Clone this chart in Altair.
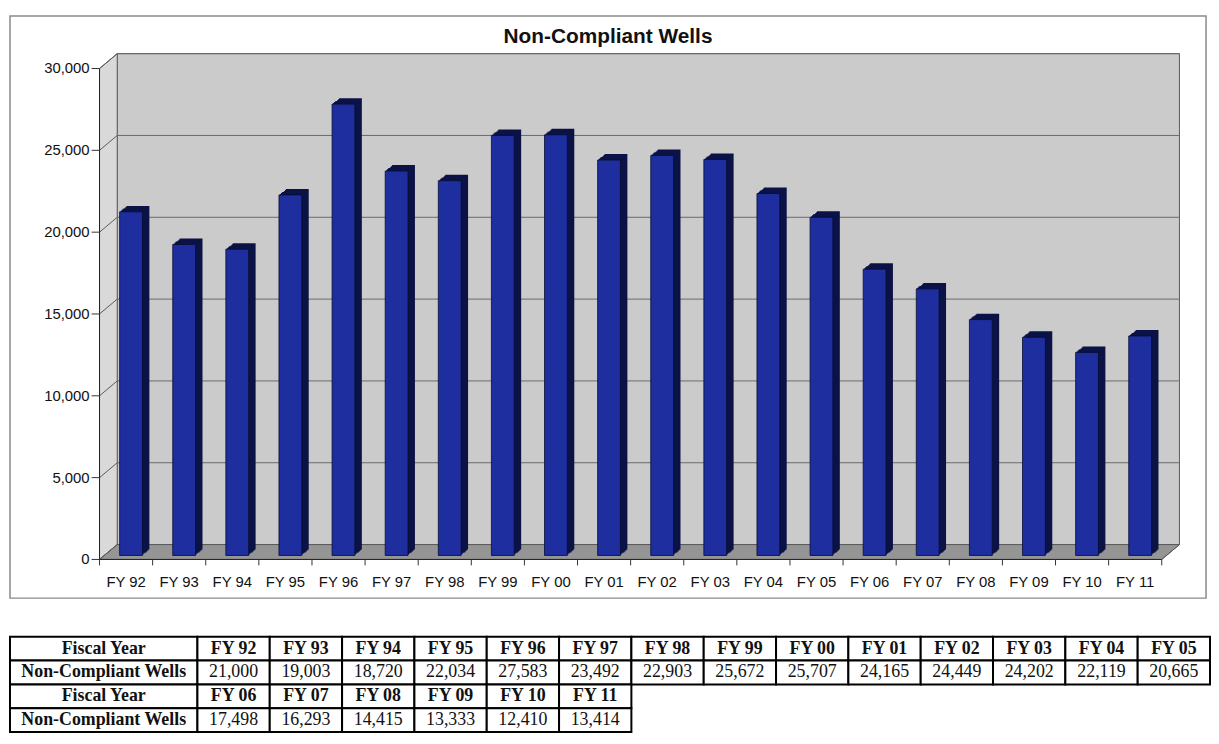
import altair as alt
import pandas as pd

# ---------------- data ----------------
years = ["FY 92", "FY 93", "FY 94", "FY 95", "FY 96", "FY 97", "FY 98", "FY 99", "FY 00", "FY 01",
         "FY 02", "FY 03", "FY 04", "FY 05", "FY 06", "FY 07", "FY 08", "FY 09", "FY 10", "FY 11"]
wells = [21000, 19003, 18720, 22034, 27583, 23492, 22903, 25672, 25707, 24165,
         24449, 24202, 22119, 20665, 17498, 16293, 14415, 13333, 12410, 13414]
y_ticks = [0, 5000, 10000, 15000, 20000, 25000, 30000]
chart_title = "Non-Compliant Wells"
head_label = "Fiscal Year"
value_label = "Non-Compliant Wells"
per_table_row = 14

n = len(years)
ymax = y_ticks[-1]

# ---------------- geometry (pixels) ----------------
W, H = 1206, 587          # framed chart area
STEP = 54                 # pixels per category
AXIS_X = 86               # front value axis position inside the frame
ZERO_Y, TOP_Y = 548, 53   # pixel rows of 0 and of the top tick inside the frame
DEPTH_X, DEPTH_Y = 18, 15 # 3-D depth of walls

xd0 = -0.5 - AXIS_X / STEP
xd1 = xd0 + W / STEP
ppu = (ZERO_Y - TOP_Y) / ymax
yd0 = -(H - ZERO_Y) / ppu
yd1 = ymax + TOP_Y / ppu
dxu = DEPTH_X / STEP
dyu = DEPTH_Y / ppu

xs = alt.Scale(domain=[xd0, xd1], nice=False, zero=False)
ys = alt.Scale(domain=[yd0, yd1], nice=False, zero=False)

FONT = "Liberation Sans"

df = pd.DataFrame({"idx": list(range(n)), "year": years, "wells": wells})

lo, hi = -0.5, n - 0.5

wall = pd.DataFrame({"x": [lo + dxu], "x2": [hi + dxu], "y": [dyu], "y2": [ymax + dyu]})
side = pd.DataFrame({"x": [lo, lo + dxu], "y": [0, dyu], "y2": [ymax, ymax + dyu]})
floor = pd.DataFrame({"y": [0, dyu], "x": [lo, lo + dxu], "x2": [hi, hi + dxu]})
grid = pd.DataFrame({"y": [v + dyu for v in y_ticks[1:]], "x": lo + dxu, "x2": hi + dxu})
diag = pd.DataFrame({
    "x": [lo] * len(y_ticks) + [hi],
    "x2": [lo + dxu] * len(y_ticks) + [hi + dxu],
    "y": y_ticks + [0],
    "y2": [v + dyu for v in y_ticks] + [dyu],
})
axis_lines = pd.DataFrame({"x": [lo, lo], "x2": [lo, hi], "y": [0, 0], "y2": [ymax, 0]})
yt = pd.DataFrame({"x": lo, "y": y_ticks, "label": [f"{v:,}" for v in y_ticks]})
xt = pd.DataFrame({"x": [i + 0.5 for i in range(-1, n)], "y": 0})


def X(field):
    return alt.X(field, scale=xs, axis=None)


def Y(field):
    return alt.Y(field, scale=ys, axis=None)


wall_layer = alt.Chart(wall).mark_rect(fill="#cbcbcb", stroke="#5a5a5a", strokeWidth=1).encode(
    x=X("x:Q"), x2="x2:Q", y=Y("y:Q"), y2="y2:Q")
side_layer = alt.Chart(side).mark_area(orient="vertical", fill="#d9d9d9", stroke="#5a5a5a", strokeWidth=1).encode(
    x=X("x:Q"), y=Y("y:Q"), y2="y2:Q")
floor_layer = alt.Chart(floor).mark_area(orient="horizontal", fill="#959595", stroke="#5a5a5a", strokeWidth=1).encode(
    y=Y("y:Q"), x=X("x:Q"), x2="x2:Q")
grid_layer = alt.Chart(grid).mark_rule(color="#6a6a6a", strokeWidth=1).encode(
    x=X("x:Q"), x2="x2:Q", y=Y("y:Q"))
diag_layer = alt.Chart(diag).mark_rule(color="#5a5a5a", strokeWidth=1).encode(
    x=X("x:Q"), x2="x2:Q", y=Y("y:Q"), y2="y2:Q")
axis_layer = alt.Chart(axis_lines).mark_rule(color="#222", strokeWidth=1).encode(
    x=X("x:Q"), x2="x2:Q", y=Y("y:Q"), y2="y2:Q")

# value-axis ticks and labels
ytick_layer = alt.Chart(yt).mark_rule(color="#333", strokeWidth=1, xOffset=-8).encode(
    x=X("x:Q"), x2="x:Q", y=Y("y:Q"))
ylabel_layer = alt.Chart(yt).mark_text(font=FONT, fontSize=15, color="#111", align="right",
                                       baseline="middle", xOffset=-10).encode(
    x=X("x:Q"), y=Y("y:Q"), text="label:N")
# category-axis ticks and labels
xtick_layer = alt.Chart(xt).mark_rule(color="#333", strokeWidth=1, y2Offset=6).encode(
    x=X("x:Q"), y=Y("y:Q"), y2="y:Q")
xlabel_layer = alt.Chart(df).mark_text(font=FONT, fontSize=15, color="#111", align="center",
                                       baseline="middle", yOffset=23).encode(
    x=X("idx:Q"), y=alt.Y(datum=0, scale=ys, axis=None), text="year:N")

BAR_W = 23
BX, BY = 5, -4   # bar front face sits mid-depth
DX, DY = 7, 6    # bar depth

extrude_layers = []
for k in range(1, DX + 1):
    off_y = BY - round(DY * k / DX)
    extrude_layers.append(
        alt.Chart(df).mark_bar(size=BAR_W, xOffset=BX + k, yOffset=off_y, y2Offset=off_y,
                               color="#0b1245").encode(
            x=X("idx:Q"), y=Y("wells:Q"), y2=alt.datum(0))
    )

front_layer = alt.Chart(df).mark_bar(size=BAR_W, xOffset=BX, yOffset=BY, y2Offset=BY,
                                     color="#1e2e9e", stroke="#080c33", strokeWidth=0.8).encode(
    x=X("idx:Q"), y=Y("wells:Q"), y2=alt.datum(0))

chart = alt.layer(wall_layer, side_layer, floor_layer, grid_layer, diag_layer, axis_layer,
                  ytick_layer, ylabel_layer, xtick_layer, xlabel_layer,
                  *extrude_layers, front_layer).properties(
    width=W, height=H,
    title=alt.TitleParams(chart_title, font=FONT, fontSize=21, fontWeight="bold", color="#111",
                          anchor="middle", offset=-48, baseline="alphabetic"),
    view=alt.ViewBackground(stroke="#8a8a8a", strokeWidth=1.5),
)

# ---------------- table ----------------
TW = 1210
ROW_H = 24
LBL_PX = 189
col_px = (TW - LBL_PX) / per_table_row
LBL = LBL_PX / col_px

cells = []
for b in range(0, n, per_table_row):
    r = (b // per_table_row) * 2
    cells.append({"x0": -LBL, "x1": 0, "r": r, "text": head_label, "bold": True})
    cells.append({"x0": -LBL, "x1": 0, "r": r + 1, "text": value_label, "bold": True})
    for k, (yr, v) in enumerate(zip(years[b:b + per_table_row], wells[b:b + per_table_row])):
        cells.append({"x0": k, "x1": k + 1, "r": r, "text": yr, "bold": True})
        cells.append({"x0": k, "x1": k + 1, "r": r + 1, "text": f"{v:,}", "bold": False})
tdf = pd.DataFrame(cells)
n_rows = int(tdf["r"].max()) + 1

tx = alt.Scale(domain=[-LBL, per_table_row], nice=False, zero=False)
ty = alt.Scale(domain=[0, n_rows], reverse=True, nice=False, zero=False)

tbase = alt.Chart(tdf).transform_calculate(
    xm="(datum.x0 + datum.x1) / 2", ym="datum.r + 0.5", r2="datum.r + 1")

cell_layer = tbase.mark_rect(fill="white", stroke="black", strokeWidth=2).encode(
    x=alt.X("x0:Q", scale=tx, axis=None), x2="x1:Q",
    y=alt.Y("r:Q", scale=ty, axis=None), y2="r2:Q")
bold_text = tbase.transform_filter("datum.bold").mark_text(
    font="Liberation Serif", fontSize=18, fontWeight="bold", color="#111", baseline="middle", align="center"
).encode(x=alt.X("xm:Q", scale=tx, axis=None), y=alt.Y("ym:Q", scale=ty, axis=None), text="text:N")
reg_text = tbase.transform_filter("!datum.bold").mark_text(
    font="Liberation Serif", fontSize=18, color="#111", baseline="middle", align="center"
).encode(x=alt.X("xm:Q", scale=tx, axis=None), y=alt.Y("ym:Q", scale=ty, axis=None), text="text:N")

table = alt.layer(cell_layer, bold_text, reg_text).properties(width=TW, height=ROW_H * n_rows)

final = alt.vconcat(chart, table, spacing=37).properties(
    padding={"left": 1, "top": 4, "right": 0, "bottom": 0}
).configure_view(strokeWidth=0)

final.save("out.html", embed_options={"renderer": "svg", "actions": False})
